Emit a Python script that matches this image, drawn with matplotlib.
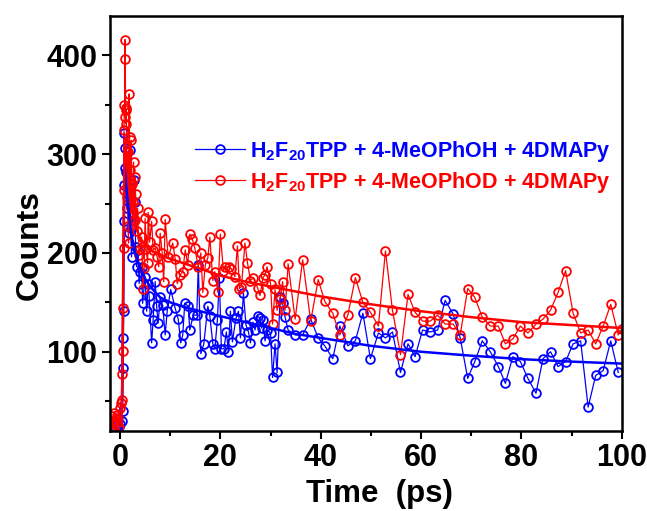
import matplotlib
matplotlib.use("Agg")
import matplotlib.pyplot as plt
from matplotlib.ticker import MultipleLocator

plt.rcParams['font.family'] = ['Liberation Sans', 'DejaVu Sans']
plt.rcParams['font.weight'] = 'bold'
plt.rcParams['mathtext.fontset'] = 'custom'
plt.rcParams['mathtext.rm'] = 'Liberation Sans:bold'
plt.rcParams['mathtext.bf'] = 'Liberation Sans:bold'
plt.rcParams['mathtext.default'] = 'bf'

# ---- data: H2F20TPP + 4-MeOPhOH + 4DMAPy (blue) ----
t_oh = [-1.6, -1.0, -0.5, 0.0, 0.3, 0.5, 0.6, 0.65, 0.7, 0.75, 0.8, 0.85, 0.9, 1.0,
        1.1, 1.3, 1.5, 1.7, 2.0, 2.1, 2.3, 2.5, 2.7, 3.0, 3.1, 3.3, 3.6, 3.8, 4.0,
        4.3, 4.5, 5.0, 5.3, 5.6, 5.8, 6.3, 6.6, 7.0, 7.3, 7.6, 8.0, 8.5, 9.0, 9.4,
        10.1, 11.0, 11.6, 12.1, 12.5, 12.9, 13.6, 13.9, 14.6, 15.3, 15.6, 16.1, 16.7,
        17.5, 17.9, 18.5, 18.9, 19.4, 19.8, 20.2, 20.7, 21.2, 21.6, 22.0, 22.4, 23.1,
        23.6, 24.0, 24.6, 25.1, 25.6, 26.0, 26.5, 26.9, 27.4, 27.9, 28.2, 28.5, 28.9,
        29.3, 30.0, 30.4, 30.9, 31.3, 31.9, 32.4, 32.9, 33.5, 34.9, 36.4, 38.0, 39.5,
        40.8, 42.4, 43.8, 45.4, 46.9, 48.4, 49.9, 51.5, 52.9, 54.3, 55.9, 57.4, 58.8,
        60.3, 61.8, 63.3, 64.8, 66.4, 67.8, 69.3, 70.7, 72.2, 73.8, 75.4, 76.8, 78.3,
        79.8, 81.3, 82.9, 84.3, 85.8, 87.3, 88.8, 90.3, 91.8, 93.3, 94.8, 96.3, 97.8,
        99.3]
counts_oh = [22, 24, 25, 27, 30, 40, 84, 114, 141, 232, 269, 321, 286, 306,
             282, 245, 260, 220, 304, 225, 196, 233, 274, 252, 206, 186, 203, 169, 181,
             186, 149, 176, 141, 169, 156, 109, 132, 171, 146, 129, 155, 147, 117, 141,
             163, 144, 133, 109, 117, 149, 146, 122, 137, 137, 188, 98, 108,
             146, 136, 108, 103, 132, 175, 103, 103, 120, 100, 141, 110, 134,
             141, 114, 159, 127, 120, 109, 130, 122, 136, 134, 124, 132, 111,
             122, 119, 74, 108, 79, 155, 149, 135, 122, 117, 117, 133, 114,
             106, 93, 126, 106, 111, 139, 93, 119, 114, 120, 79, 108, 95,
             122, 120, 122, 152, 138, 114, 73, 90, 111, 100, 85, 68, 95,
             90, 73, 58, 93, 100, 85, 90, 108, 111, 44, 76, 81, 111,
             79]

# ---- data: H2F20TPP + 4-MeOPhOD + 4DMAPy (red) ----
t_od = [-1.8, -1.6, -1.4, -1.2, -1.0, -0.8, -0.6, -0.4, -0.2, 0.0, 0.15, 0.3,
        0.4, 0.5, 0.6, 0.7, 0.75, 0.8, 0.85, 0.9, 1.0, 1.05, 1.1, 1.15, 1.25, 1.35,
        1.5, 1.6, 1.7, 1.8, 1.9, 2.0, 2.1, 2.25, 2.35, 2.5, 2.6, 2.7, 2.9, 3.0, 3.1,
        3.3, 3.5, 3.8, 4.0, 4.3, 4.6, 4.8, 5.0, 5.2, 5.5, 5.6, 5.9, 6.3, 6.6, 7.0,
        7.4, 7.7, 8.0, 8.4, 8.7, 9.0, 9.6, 10.5, 11.0, 11.4, 12.0, 12.5, 13.0, 13.5,
        13.9, 14.4, 14.9, 15.6, 16.1, 16.5, 17.0, 17.5, 17.9, 18.5, 18.9, 19.5, 20.0,
        20.6, 21.0, 21.7, 22.2, 22.9, 23.4, 23.8, 24.2, 24.9, 25.4, 26.0, 26.6, 27.4,
        27.9, 28.5, 28.9, 29.3, 30.0, 30.4, 30.9, 31.3, 31.9, 32.4, 32.9, 33.5, 34.9,
        36.4, 38.0, 39.5, 40.8, 42.4, 43.8, 45.4, 46.9, 48.4, 49.9, 51.5, 52.9, 54.3,
        55.9, 57.4, 58.8, 60.3, 61.8, 63.3, 64.8, 66.4, 67.8, 69.3, 70.7, 72.2, 73.8,
        75.4, 76.8, 78.3, 79.8, 81.3, 82.9, 84.3, 85.8, 87.3, 88.8, 90.3, 91.8, 93.3,
        94.8, 96.3, 97.8, 99.3, 100.0]
counts_od = [28, 35, 22, 38, 30, 26, 36, 33, 24, 43, 48, 51,
             77, 101, 144, 205, 264, 324, 350, 338, 416, 396, 347, 331, 345, 257,
             302, 227, 210, 361, 317, 284, 245, 314, 270, 252, 240, 292, 233, 277, 260,
             222, 245, 198, 204, 216, 164, 185, 235, 204, 190, 241, 211, 232, 203, 205,
             196, 186, 220, 200, 171, 234, 196, 210, 194, 169, 178, 181, 203, 188,
             219, 214, 205, 186, 200, 160, 188, 195, 216, 172, 181, 160, 219,
             182, 186, 186, 184, 176, 207, 164, 166, 210, 190, 172, 175, 165,
             157, 175, 178, 186, 169, 128, 163, 142, 153, 171, 142, 189, 133,
             193, 131, 173, 151, 139, 117, 137, 175, 150, 140, 126, 202, 142,
             97, 158, 140, 131, 131, 137, 128, 128, 117, 164, 155, 135, 126,
             126, 108, 113, 126, 119, 128, 133, 142, 160, 182, 139, 119, 122,
             108, 126, 148, 117, 123]

# ---- fitted decay curves ----
t_fit = [0.3, 0.5, 0.7, 0.9, 1.0, 1.3, 1.7, 2.2, 3.0, 4.0, 5.0, 6.0, 8.0, 10.0,
         13.0, 16.0, 20.0, 25.0, 30.0, 35.0, 40.0, 50.0, 60.0, 70.0, 80.0, 90.0, 100.0]
fit_od = [25, 90, 220, 310, 315, 295, 270, 248, 228, 215, 208, 203, 198, 194,
          189, 184, 177, 171, 166, 161, 156, 148, 141, 135, 130, 127, 124]
fit_oh = [22, 80, 200, 288, 292, 268, 243, 220, 200, 185, 174, 166, 155, 150,
          145, 141, 136, 130, 124, 118, 114, 106, 100, 96, 92.5, 90, 88]

labels = [r"H$_{2}$F$_{20}$TPP + 4-MeOPhOH + 4DMAPy",
          r"H$_{2}$F$_{20}$TPP + 4-MeOPhOD + 4DMAPy"]
colors = ['#0000FF', '#FF0000']

fig = plt.figure(figsize=(6.47, 5.11), dpi=100)
ax = fig.add_axes([0.170, 0.157, 0.791, 0.812])

mk = dict(marker='o', markersize=6.3, markerfacecolor='none', markeredgewidth=1.3, linewidth=0.9)
l1, = ax.plot(t_oh, counts_oh, color=colors[0], markeredgecolor=colors[0], label=labels[0], **mk)
l2, = ax.plot(t_od, counts_od, color=colors[1], markeredgecolor=colors[1], label=labels[1], **mk)
ax.plot(t_fit, fit_oh, color=colors[0], linewidth=1.8)
ax.plot(t_fit, fit_od, color=colors[1], linewidth=1.8)

ax.set_xlim(-2, 100)
ax.set_ylim(20, 440)
ax.xaxis.set_major_locator(MultipleLocator(20))
ax.xaxis.set_minor_locator(MultipleLocator(10))
ax.yaxis.set_major_locator(MultipleLocator(100))
ax.yaxis.set_minor_locator(MultipleLocator(50))
ax.tick_params(which='both', direction='out', width=1.5, top=False, right=False)
ax.tick_params(which='major', length=6, labelsize=22, pad=3)
ax.tick_params(which='minor', length=3.5)
for lab in ax.get_xticklabels() + ax.get_yticklabels():
    lab.set_fontweight('bold')
for s in ax.spines.values():
    s.set_linewidth(1.8)

ax.set_xlabel('Time  (ps)', fontsize=22.5, fontweight='bold')
ax.set_ylabel('Counts', fontsize=23, fontweight='bold')
ax.xaxis.set_label_coords(0.527, -0.117)
ax.yaxis.set_label_coords(-0.127, 0.448)

leg = ax.legend(handles=[l1, l2], loc='upper left', bbox_to_anchor=(0.15, 0.725),
                frameon=False, fontsize=15.5, handlelength=2.3, handletextpad=0.25,
                labelspacing=0.3, borderaxespad=0)
for txt, c in zip(leg.get_texts(), colors):
    txt.set_color(c)
    txt.set_fontweight('bold')

fig.savefig('out.png', dpi=100)
